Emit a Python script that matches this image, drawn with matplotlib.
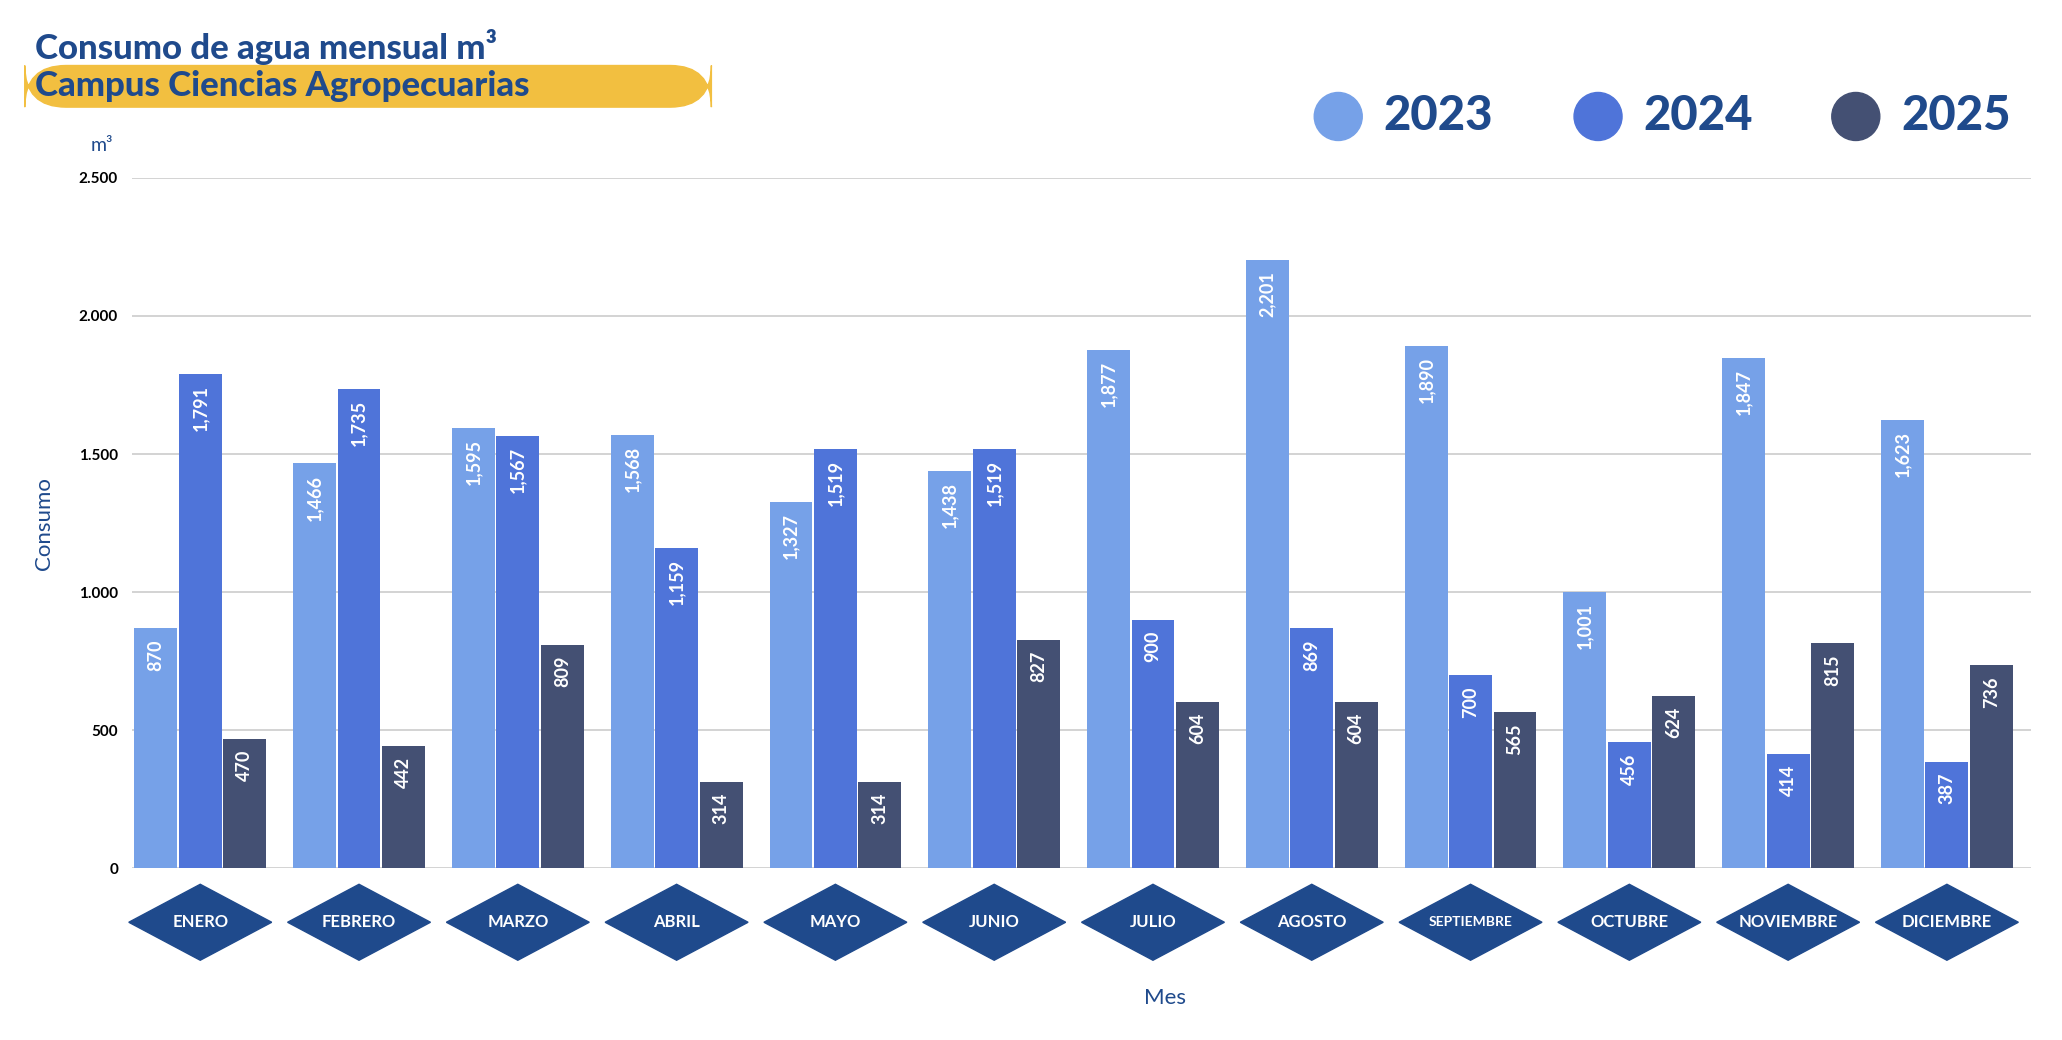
import matplotlib.pyplot as plt
from matplotlib.patches import Polygon, FancyBboxPatch
from matplotlib.transforms import blended_transform_factory
import numpy as np

plt.rcParams['font.family'] = ['Lato', 'DejaVu Sans']

meses = ['ENERO', 'FEBRERO', 'MARZO', 'ABRIL', 'MAYO', 'JUNIO', 'JULIO', 'AGOSTO',
         'SEPTIEMBRE', 'OCTUBRE', 'NOVIEMBRE', 'DICIEMBRE']
v2023 = [870, 1466, 1595, 1568, 1327, 1438, 1877, 2201, 1890, 1001, 1847, 1623]
v2024 = [1791, 1735, 1567, 1159, 1519, 1519, 900, 869, 700, 456, 414, 387]
v2025 = [470, 442, 809, 314, 314, 827, 604, 604, 565, 624, 815, 736]
series = [('2023', v2023, '#76a1e8'), ('2024', v2024, '#4f74d9'), ('2025', v2025, '#445073')]
azul = '#1f4a8c'

fig = plt.figure(figsize=(20.62, 10.40), dpi=100)
ax = fig.add_axes([0.064, 0.165, 0.921, 0.664])
x = np.arange(len(meses))
w = 0.27
for i, (nombre, vals, col) in enumerate(series):
    pos = x + (i - 1) * 0.28
    ax.bar(pos, vals, w, color=col, zorder=3)
    for px, v in zip(pos, vals):
        ax.text(px, v - 40, f'{v:,}', rotation=90, ha='center', va='top', color='white',
                fontsize=13, fontweight='bold', zorder=4)

ax.set_xlim(-0.43, 11.53)
ax.set_ylim(0, 2500)
ax.set_yticks([0, 500, 1000, 1500, 2000, 2500])
ax.set_yticklabels(['0', '500', '1.000', '1.500', '2.000', '2.500'], fontsize=11, fontweight='bold')
ax.grid(axis='y', color='#cccccc', lw=1.2, zorder=0)
ax.set_xticks([])
for s in ax.spines.values():
    s.set_visible(False)
ax.tick_params(axis='y', length=0, pad=10)
ax.set_ylabel('Consumo', color=azul, fontsize=16, labelpad=18)

tr = blended_transform_factory(ax.transData, ax.transAxes)
for xi, m in zip(x, meses):
    cy, hy, hx = -0.078, 0.055, 0.45
    ax.add_patch(Polygon([[xi - hx, cy], [xi, cy + hy], [xi + hx, cy], [xi, cy - hy]],
                         closed=True, transform=tr, clip_on=False, color='#1f4a8c'))
    ax.text(xi, cy, m, transform=tr, ha='center', va='center', color='white',
            fontsize=12 if len(m) < 10 else 10, fontweight='bold')
fig.text(0.565, 0.035, 'Mes', color=azul, fontsize=16, ha='center')
fig.text(0.044, 0.855, 'm³', color=azul, fontsize=14)

fig.text(0.017, 0.955, 'Consumo de agua mensual m³', color=azul, fontsize=25,
         fontweight='black', va='center')
fig.patches.append(FancyBboxPatch((0.012, 0.897), 0.333, 0.04, boxstyle='round,pad=0,rounding_size=0.02',
                                  transform=fig.transFigure, color='#f2bf40', mutation_aspect=2))
fig.text(0.017, 0.917, 'Campus Ciencias Agropecuarias', color=azul, fontsize=25,
         fontweight='black', va='center')

lx = [0.649, 0.775, 0.9]
for (nombre, vals, col), px in zip(series, lx):
    fig.patches.append(plt.Circle((px, 0.888), 0.0115, transform=fig.transFigure, color=col,
                                  ))
    fig.text(px + 0.022, 0.888, nombre, color=azul, fontsize=34, fontweight='black', va='center')
# make circles round
for p in fig.patches:
    if isinstance(p, plt.Circle):
        p.set_transform(fig.dpi_scale_trans)
        p.center = (p.center[0] * 20.62, p.center[1] * 10.40)
        p.set_radius(0.24)

fig.savefig('out.png', dpi=100, facecolor='white')
